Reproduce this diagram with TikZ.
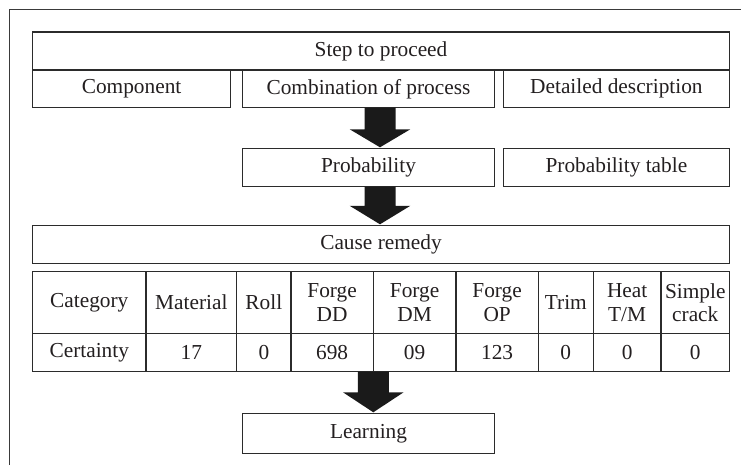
\documentclass[tikz,border=0pt]{standalone}
\usepackage{fontspec}
\setmainfont{Liberation Serif}
\usetikzlibrary{calc}
\definecolor{ink}{HTML}{231F20}
\definecolor{linec}{HTML}{2B2B2B}
\definecolor{framec}{HTML}{3A3A3A}
\definecolor{arrowc}{HTML}{1A1A1A}
\newcommand{\flowarrow}[4]{%
  \fill[arrowc] ($(#2 -| #1)+(-15.5,0)$) -- ($(#2 -| #1)+(15.5,0)$)
    -- ($(#3 -| #1)+(15.5,-#4)$) -- ($(#3 -| #1)+(30.3,-#4)$)
    -- ($(#3 -| #1)+(0,-1)$)
    -- ($(#3 -| #1)+(-30.3,-#4)$) -- ($(#3 -| #1)+(-15.5,-#4)$) -- cycle;}
\begin{document}
\begin{tikzpicture}[x=0.75pt,y=-0.75pt,
  box/.style={draw=linec, line width=0.8pt, inner sep=0pt, outer sep=0pt,
    text=ink, font=\fontsize{16}{18}\selectfont},
  cell/.style={box, line width=1.1pt, align=center,
    font=\fontsize{16}{17.5}\selectfont},
  hcell/.style={cell, minimum height=46.2pt},
  dcell/.style={cell, minimum height=28.8pt}]
\useasboundingbox (0,0) rectangle (741,465);
\draw[framec, line width=1.1pt] (9.3,465) -- (9.3,9.3) -- (741,9.3);

\node[box, minimum width=522.75pt, minimum height=28.5pt] (step) at (381,51) {Step to proceed};
\node[box, minimum width=148.65pt, minimum height=28.275pt] (comp) at (131.6,88.85) {Component};
\node[box, minimum width=188.7pt, minimum height=28.275pt] (comb) at (368.5,88.85) {Combination of process};
\node[box, minimum width=169.65pt, minimum height=28.275pt] (det) at (616.4,88.85) {Detailed description};
\node[box, minimum width=188.7pt, minimum height=28.8pt] (prob) at (368.5,167.5) {Probability};
\node[box, minimum width=169.65pt, minimum height=28.8pt] (ptab) at (616.4,167.5) {Probability table};
\node[box, minimum width=522.75pt, minimum height=28.5pt] (cause) at (381,244.3) {Cause remedy};

% table
\node[hcell, minimum width=85.125pt] (h1) at (89.25,302.5) {Category};
\node[hcell, minimum width=68.025pt] (h2) at (191.35,302.5) {Material};
\node[hcell, minimum width=40.725pt] (h3) at (263.85,302.5) {Roll};
\node[hcell, minimum width=61.725pt] (h4) at (332.15,302.5) {Forge\\DD};
\node[hcell, minimum width=62.025pt] (h5) at (414.65,302.5) {Forge\\DM};
\node[hcell, minimum width=61.725pt] (h6) at (497.15,302.5) {Forge\\OP};
\node[hcell, minimum width=41.25pt] (h7) at (565.8,302.5) {Trim};
\node[hcell, minimum width=50.775pt] (h8) at (627.15,302.5) {Heat\\T/M};
\node[hcell, minimum width=51.375pt] (h9) at (695.25,302.5) {Simple\\crack};

\node[dcell, minimum width=85.125pt] (d1) at (89.25,352.5) {Certainty};
\node[dcell, minimum width=68.025pt] (d2) at (191.35,352.5) {17};
\node[dcell, minimum width=40.725pt] (d3) at (263.85,352.5) {0};
\node[dcell, minimum width=61.725pt] (d4) at (332.15,352.5) {698};
\node[dcell, minimum width=62.025pt] (d5) at (414.65,352.5) {09};
\node[dcell, minimum width=61.725pt] (d6) at (497.15,352.5) {123};
\node[dcell, minimum width=41.25pt] (d7) at (565.8,352.5) {0};
\node[dcell, minimum width=50.775pt] (d8) at (627.15,352.5) {0};
\node[dcell, minimum width=51.375pt] (d9) at (695.25,352.5) {0};

\node[box, minimum width=188.7pt, minimum height=30pt] (learn) at (368.5,433.3) {Learning};

\coordinate (ax) at (380,0);
\flowarrow{ax}{comb.south}{prob.north}{19}
\flowarrow{ax}{prob.south}{cause.north}{19.5}
\flowarrow{d4.south east}{d4.south east}{learn.north}{21}
\end{tikzpicture}
\end{document}
